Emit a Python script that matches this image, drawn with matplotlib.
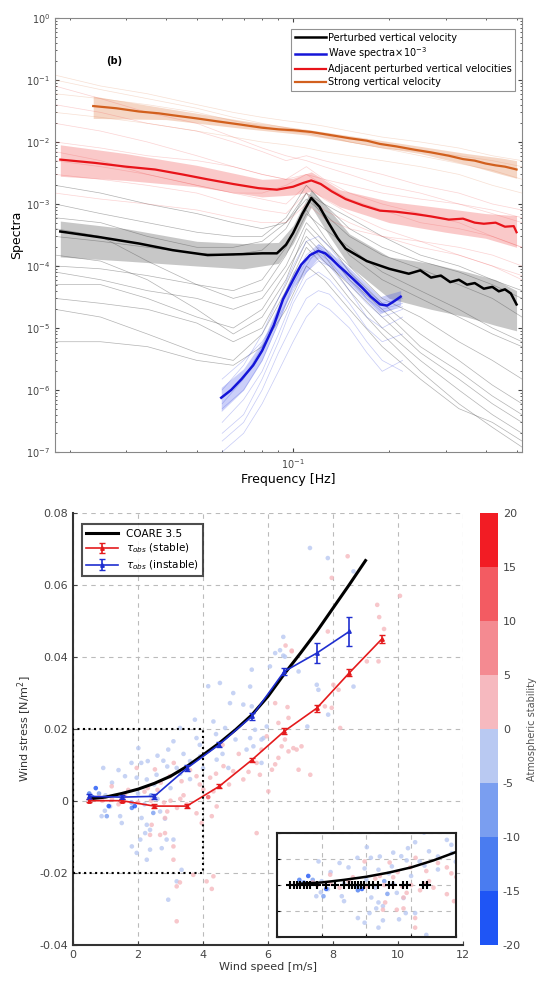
import matplotlib
matplotlib.use("Agg")
import matplotlib.pyplot as plt
import numpy as np
from matplotlib.colors import ListedColormap, BoundaryNorm
from matplotlib.ticker import LogLocator, NullFormatter, MultipleLocator
import matplotlib.cm as cm

plt.rcParams['axes.unicode_minus'] = False

# ---------------- panel (b): spectra ----------------
# mean spectra
f_black = [0.0187, 0.025, 0.033, 0.042, 0.054, 0.069, 0.08, 0.089, 0.095, 0.1, 0.107, 0.114,
           0.121, 0.129, 0.138, 0.146, 0.17, 0.2, 0.23, 0.25, 0.27, 0.29, 0.31, 0.33, 0.35,
           0.37, 0.395, 0.42, 0.44, 0.46, 0.48, 0.5]
s_black = [3.6e-4, 2.9e-4, 2.3e-4, 1.8e-4, 1.5e-4, 1.55e-4, 1.6e-4, 1.6e-4, 2.2e-4, 3.4e-4, 7e-4, 1.25e-3,
           9e-4, 5e-4, 2.8e-4, 1.9e-4, 1.2e-4, 9e-5, 7.5e-5, 8.5e-5, 6.5e-5, 7e-5, 5.5e-5, 6e-5, 5e-5,
           5.3e-5, 4.3e-5, 4.6e-5, 3.9e-5, 4.2e-5, 3.6e-5, 2.4e-5]
f_black_band = [0.0187, 0.03, 0.05, 0.07, 0.09, 0.1, 0.114, 0.13, 0.15, 0.2, 0.27, 0.35, 0.43, 0.5]
lo_black = [1.4e-4, 1.2e-4, 1.0e-4, 9e-5, 1.1e-4, 2.3e-4, 9e-4, 3e-4, 1e-4, 3e-5, 2e-5, 1.5e-5, 1.1e-5, 9e-6]
hi_black = [5.3e-4, 4e-4, 2.5e-4, 2.3e-4, 2.4e-4, 4.5e-4, 1.7e-3, 8e-4, 3.3e-4, 1.4e-4, 1.1e-4, 8e-5, 6e-5, 4e-5]

f_red = [0.0187, 0.024, 0.03, 0.037, 0.045, 0.054, 0.065, 0.078, 0.089, 0.1, 0.108, 0.114, 0.122,
         0.132, 0.146, 0.165, 0.187, 0.21, 0.24, 0.27, 0.307, 0.34, 0.37, 0.395, 0.43, 0.46, 0.49, 0.5]
s_red = [5.2e-3, 4.6e-3, 4.0e-3, 3.6e-3, 3.0e-3, 2.5e-3, 2.1e-3, 1.8e-3, 1.7e-3, 1.9e-3, 2.2e-3, 2.4e-3, 2.1e-3,
         1.6e-3, 1.2e-3, 9.5e-4, 7.8e-4, 7.5e-4, 6.9e-4, 6.3e-4, 5.6e-4, 5.8e-4, 5.0e-4, 4.8e-4, 5.0e-4, 4.3e-4, 4.4e-4, 3.5e-4]
f_red_band = [0.0187, 0.03, 0.05, 0.08, 0.1, 0.114, 0.14, 0.2, 0.3, 0.4, 0.5]
lo_red = [2.8e-3, 2.4e-3, 1.9e-3, 1.3e-3, 1.4e-3, 1.6e-3, 9e-4, 5e-4, 3.5e-4, 2.8e-4, 2e-4]
hi_red = [9e-3, 6.5e-3, 4.2e-3, 2.5e-3, 2.6e-3, 3.3e-3, 1.7e-3, 1.1e-3, 8.5e-4, 7e-4, 6.5e-4]

f_orange = [0.0237, 0.028, 0.033, 0.038, 0.042, 0.05, 0.058, 0.069, 0.08, 0.09, 0.1, 0.114, 0.13,
            0.15, 0.17, 0.187, 0.21, 0.24, 0.27, 0.307, 0.34, 0.37, 0.4, 0.43, 0.46, 0.49, 0.5]
s_orange = [3.8e-2, 3.5e-2, 3.1e-2, 2.9e-2, 2.7e-2, 2.4e-2, 2.15e-2, 1.9e-2, 1.7e-2, 1.6e-2, 1.55e-2, 1.45e-2, 1.3e-2,
            1.15e-2, 1.05e-2, 9.3e-3, 8.5e-3, 7.5e-3, 6.8e-3, 6.0e-3, 5.3e-3, 5.0e-3, 4.5e-3, 4.2e-3, 4.0e-3, 3.7e-3, 3.6e-3]
f_orange_band = [0.0237, 0.04, 0.07, 0.11, 0.17, 0.25, 0.35, 0.45, 0.5]
lo_orange = [2.4e-2, 2.3e-2, 1.65e-2, 1.3e-2, 9e-3, 6.5e-3, 4.3e-3, 3.0e-3, 2.6e-3]
hi_orange = [5.5e-2, 3.5e-2, 2.2e-2, 1.6e-2, 1.15e-2, 8.5e-3, 6.5e-3, 5.5e-3, 5e-3]

f_wave = [0.0596, 0.064, 0.069, 0.075, 0.08, 0.087, 0.093, 0.1, 0.106, 0.113, 0.12, 0.126, 0.132,
          0.139, 0.146, 0.155, 0.165, 0.175, 0.187, 0.197, 0.207, 0.217]
s_wave = [7.5e-7, 1.0e-6, 1.5e-6, 2.5e-6, 4.3e-6, 1.1e-5, 2.9e-5, 6e-5, 1.05e-4, 1.5e-4, 1.75e-4, 1.6e-4, 1.3e-4,
          1.0e-4, 8e-5, 6e-5, 4.4e-5, 3.2e-5, 2.4e-5, 2.3e-5, 2.7e-5, 3.2e-5]
f_wave_band = [0.0596, 0.07, 0.08, 0.1, 0.12, 0.146, 0.187, 0.217]
lo_wave = [4.5e-7, 1e-6, 3e-6, 4.5e-5, 1.35e-4, 6e-5, 1.7e-5, 2.3e-5]
hi_wave = [1.1e-6, 2.2e-6, 6e-6, 8e-5, 2.3e-4, 1.05e-4, 3.2e-5, 4e-5]

# individual spectra (thin lines)
f_thin = [0.018, 0.025, 0.035, 0.05, 0.065, 0.08, 0.095, 0.11, 0.125, 0.15, 0.19, 0.25, 0.33, 0.42, 0.52]
thin_black = [
    [3e-4, 2.5e-4, 2e-4, 1.6e-4, 1.5e-4, 1.8e-4, 4e-4, 1.5e-3, 6e-4, 1.5e-4, 6e-5, 3e-5, 1.5e-5, 8e-6, 5e-6],
    [1e-4, 9e-5, 7e-5, 5e-5, 4e-5, 6e-5, 2e-4, 8e-4, 3e-4, 8e-5, 2.5e-5, 8e-6, 3e-6, 1.2e-6, 6e-7],
    [5e-5, 5e-5, 3e-5, 1.5e-5, 1e-5, 2e-5, 8e-5, 3e-4, 1.5e-4, 4e-5, 1e-5, 3e-6, 1e-6, 4e-7, 2e-7],
    [2e-5, 1.5e-5, 8e-6, 4e-6, 3e-6, 8e-6, 4e-5, 2e-4, 1e-4, 3e-5, 8e-6, 2e-6, 6e-7, 2.5e-7, 1.2e-7],
    [6e-6, 6e-6, 5e-6, 3e-6, 2.5e-6, 5e-6, 2e-5, 1e-4, 6e-5, 2e-5, 5e-6, 1.5e-6, 5e-7, 3e-7, 1.5e-7],
    [1e-3, 7e-4, 5e-4, 3.5e-4, 3e-4, 3e-4, 6e-4, 2e-3, 1e-3, 4e-4, 2e-4, 1.2e-4, 8e-5, 5e-5, 3e-5],
    [6e-4, 5e-4, 3e-4, 2e-4, 2e-4, 2.5e-4, 5e-4, 1.2e-3, 7e-4, 3e-4, 1.5e-4, 9e-5, 5e-5, 3e-5, 1.5e-5],
    [1.5e-4, 1.2e-4, 6e-5, 2e-5, 8e-6, 1.5e-5, 6e-5, 4e-4, 2e-4, 6e-5, 2e-5, 5e-6, 2e-6, 8e-7, 4e-7],
    [3e-5, 2.5e-5, 2e-5, 1.2e-5, 6e-6, 1e-5, 5e-5, 2.5e-4, 1.2e-4, 5e-5, 1.5e-5, 4e-6, 1.5e-6, 6e-7, 3e-7],
    [2e-3, 1.5e-3, 1e-3, 7e-4, 5e-4, 4e-4, 5e-4, 1.5e-3, 1e-3, 6e-4, 3e-4, 1.5e-4, 1e-4, 6e-5, 4e-5],
    [8e-5, 6e-5, 4e-5, 3e-5, 2e-5, 3e-5, 1e-4, 5e-4, 2.5e-4, 1e-4, 3e-5, 1.5e-5, 6e-6, 3e-6, 1.5e-6],
    [4e-4, 3e-4, 1.2e-4, 5e-5, 3e-5, 4e-5, 1.5e-4, 7e-4, 4e-4, 2e-4, 8e-5, 4e-5, 2e-5, 1e-5, 6e-6],
]
thin_red = [
    [8e-2, 5e-2, 3e-2, 2e-2, 1.2e-2, 8e-3, 6e-3, 5e-3, 4e-3, 3e-3, 2e-3, 1.5e-3, 1e-3, 7e-4, 5e-4],
    [2e-2, 1.5e-2, 1e-2, 6e-3, 4e-3, 3e-3, 2.5e-3, 4e-3, 2.5e-3, 1.5e-3, 1e-3, 7e-4, 5e-4, 3e-4, 2e-4],
    [5e-3, 4e-3, 3e-3, 2e-3, 1.5e-3, 1.2e-3, 1e-3, 2e-3, 1.2e-3, 7e-4, 4e-4, 2.5e-4, 1.5e-4, 1e-4, 7e-5],
    [1e-2, 8e-3, 6e-3, 5e-3, 4e-3, 3e-3, 2.5e-3, 3e-3, 2.5e-3, 2e-3, 1.5e-3, 1.2e-3, 1e-3, 8e-4, 6e-4],
    [3e-3, 2.5e-3, 2e-3, 1.5e-3, 1e-3, 8e-4, 7e-4, 1.5e-3, 8e-4, 5e-4, 3e-4, 2e-4, 1.5e-4, 1e-4, 6e-5],
    [4e-2, 3e-2, 2e-2, 1.5e-2, 1e-2, 7e-3, 5e-3, 6e-3, 5e-3, 4e-3, 3e-3, 2e-3, 1.5e-3, 1e-3, 8e-4],
    [1.5e-3, 1.2e-3, 1e-3, 8e-4, 6e-4, 5e-4, 5e-4, 1e-3, 6e-4, 4e-4, 3e-4, 2.5e-4, 2e-4, 1.5e-4, 1e-4],
    [7e-3, 5e-3, 3e-3, 2e-3, 1.5e-3, 1.5e-3, 2e-3, 3e-3, 2e-3, 1.2e-3, 8e-4, 5e-4, 4e-4, 3e-4, 2e-4],
]
thin_orange = [
    [1e-1, 7e-2, 5e-2, 3.5e-2, 2.5e-2, 2e-2, 1.7e-2, 1.5e-2, 1.3e-2, 1e-2, 8e-3, 6e-3, 4.5e-3, 3.5e-3, 2.5e-3],
    [6e-2, 5e-2, 4e-2, 3e-2, 2.2e-2, 1.8e-2, 1.5e-2, 1.4e-2, 1.2e-2, 1e-2, 8e-3, 7e-3, 6e-3, 5e-3, 4e-3],
    [3e-2, 2.5e-2, 2e-2, 1.5e-2, 1.2e-2, 1e-2, 9e-3, 8e-3, 7e-3, 6e-3, 5e-3, 4e-3, 3e-3, 2e-3, 1.5e-3],
    [1.2e-1, 8e-2, 6e-2, 4e-2, 3e-2, 2.5e-2, 2.2e-2, 2e-2, 1.8e-2, 1.5e-2, 1.2e-2, 1e-2, 8e-3, 6e-3, 5e-3],
]
f_thin_wave = [0.06, 0.07, 0.08, 0.09, 0.1, 0.11, 0.12, 0.13, 0.15, 0.17, 0.19, 0.22]
thin_wave = [
    [5e-7, 1e-6, 3e-6, 1.2e-5, 5e-5, 1.2e-4, 1.6e-4, 1.2e-4, 5e-5, 2.5e-5, 1.5e-5, 2e-5],
    [2e-7, 4e-7, 1.5e-6, 6e-6, 2.5e-5, 6e-5, 8e-5, 6e-5, 2.5e-5, 1e-5, 6e-6, 8e-6],
    [1e-6, 2.5e-6, 8e-6, 3e-5, 1e-4, 2.5e-4, 3e-4, 2e-4, 8e-5, 4e-5, 2.5e-5, 3e-5],
    [1e-7, 2e-7, 6e-7, 2e-6, 6e-6, 1.5e-5, 2.5e-5, 2e-5, 1e-5, 4e-6, 2e-6, 3e-6],
    [3e-7, 7e-7, 2e-6, 8e-6, 3e-5, 8e-5, 1.2e-4, 1e-4, 4e-5, 1.5e-5, 1e-5, 1.5e-5],
    [1.5e-6, 3e-6, 6e-6, 1.5e-5, 4e-5, 1e-4, 2e-4, 1.5e-4, 6e-5, 3e-5, 2e-5, 2.5e-5],
    [1.5e-7, 3e-7, 1e-6, 4e-6, 1.2e-5, 3e-5, 4e-5, 3.5e-5, 1.5e-5, 6e-6, 3e-6, 2e-6],
    [6e-7, 1.5e-6, 5e-6, 2e-5, 6e-5, 1.5e-4, 2.2e-4, 1.7e-4, 7e-5, 3e-5, 1.8e-5, 2.2e-5],
]

# ---------------- wind stress panel ----------------
coare_u = [0.5, 1, 1.5, 2, 2.5, 3, 3.5, 4, 4.5, 5, 5.5, 6, 6.5, 7, 7.5, 8, 8.5, 9]
coare_tau = [0.0005, 0.001, 0.002, 0.0032, 0.0048, 0.0068, 0.0095, 0.0127, 0.016, 0.0197, 0.0238,
             0.029, 0.0352, 0.041, 0.047, 0.0535, 0.060, 0.0667]

stable_u = [0.5, 1.5, 2.5, 3.5, 4.5, 5.5, 6.5, 7.5, 8.5, 9.5]
stable_tau = [0.0, 0.0, -0.0015, -0.0015, 0.004, 0.0113, 0.0193, 0.0257, 0.0355, 0.0449]
stable_err = [0.0005, 0.0005, 0.0006, 0.0006, 0.0006, 0.0006, 0.0008, 0.001, 0.001, 0.0012]

instable_u = [0.5, 1.5, 2.5, 3.5, 4.5, 5.5, 6.5, 7.5, 8.5]
instable_tau = [0.0012, 0.001, 0.0012, 0.009, 0.0156, 0.0234, 0.0359, 0.041, 0.047]
instable_err = [0.0006, 0.0005, 0.0006, 0.0008, 0.0008, 0.001, 0.001, 0.0028, 0.004]

wind_u = [5.50, 4.52, 4.93, 4.16, 4.83, 5.24, 5.50, 3.75, 4.32, 4.68, 5.45, 3.29, 3.09, 2.93, 3.80, 2.01,
          0.93, 1.60, 1.96, 2.27, 2.57, 2.78, 3.19, 3.91, 4.42, 4.78, 5.34, 5.86,
          6.22, 6.47, 6.94, 6.06, 5.45, 7.50, 7.55, 8.63, 7.85, 7.21, 5.80, 5.55, 5.60, 5.96, 5.80,
          7.29, 7.84, 8.63, 6.47, 6.37, 6.52,
          1.14, 0.98, 0.88, 1.04, 1.81, 1.45, 1.50, 2.11, 2.27, 2.37, 2.47, 2.68, 2.83, 2.22, 2.88,
          2.07, 1.81, 2.37, 2.73, 3.09, 1.96, 2.27, 3.34, 3.19, 2.93,
          0.7, 1.0, 1.1, 1.9, 0.6, 1.5, 1.8, 2.2, 2.6, 0.5, 2.4,
          2.3, 2.6, 2.9, 3.4, 3.6, 2.1, 1.4, 1.8, 2.5, 3.0, 3.3, 3.6, 4.0, 4.6, 5.0, 1.2, 0.8, 2.0,
          4.4, 3.9,
          1.96, 2.52, 2.98, 3.34, 3.80, 4.22, 4.63, 4.93, 5.24, 5.65, 5.80, 5.96, 1.19, 4.01, 4.32,
          6.73, 6.22, 8.01, 8.17, 9.04, 9.40, 7.75, 7.96, 8.22, 6.32, 6.63, 6.52, 6.78, 7.03, 6.42,
          6.63, 6.88, 6.32, 6.22, 6.12, 5.75, 6.94, 7.30, 6.01,
          8.45, 7.96, 10.06, 9.36, 9.42, 9.57, 7.84, 6.54, 6.73,
          2.42, 2.83, 2.37, 2.68, 2.83, 3.09, 3.09, 3.70, 3.29, 3.19, 3.19, 4.11, 4.32, 4.27, 3.96,
          4.27, 4.42, 5.65, 4.16,
          0.8, 1.2, 1.6, 2.0, 2.4, 2.8, 3.0, 3.3, 3.5, 0.9, 2.2, 2.6, 1.4, 3.2,
          3.1, 3.6, 3.9, 4.4, 5.1, 2.7, 2.3, 1.7, 4.8, 5.4, 3.4, 2.9, 3.8, 4.6, 6.6]
wind_tau = [0.0364, 0.0327, 0.0299, 0.0318, 0.0271, 0.0267, 0.0262, 0.0225, 0.0220, 0.0202, 0.0174, 0.0202,
            0.0165, 0.0142, 0.0174, 0.0146,
            0.0091, 0.0068, 0.0064, 0.0059, 0.0072, 0.0111, 0.0091, 0.0123, 0.0114, 0.0091, 0.0142, 0.0174,
            0.0410, 0.0403, 0.0359, 0.0373, 0.0317, 0.0322, 0.0308, 0.0317, 0.0239, 0.0206, 0.0170, 0.0151,
            0.0197, 0.0206, 0.0105,
            0.0702, 0.0674, 0.0637, 0.0455, 0.0418, 0.0400,
            -0.0016, -0.0028, -0.0043, -0.0043, -0.0020, -0.0043, -0.0062, -0.0048, -0.0067, -0.0081,
            -0.0034, -0.0030, -0.0050, -0.0090, -0.0108,
            -0.0108, -0.0127, -0.0136, -0.0132, -0.0108, -0.0145, -0.0164, -0.0192, -0.0224, -0.0275,
            0.0035, 0.0015, -0.0015, -0.0015, 0.001, 0.0005, -0.0005, -0.001, 0.0005, 0.002, 0.0015,
            0.011, 0.0125, 0.0095, 0.013, 0.011, 0.0105, 0.0085, 0.0105, 0.0045, 0.0035, 0.0075, 0.006,
            0.009, 0.013, 0.017, 0.005, 0.002, 0.002, 0.0185, 0.0155,
            0.0091, 0.0087, 0.0068, 0.0054, 0.0068, 0.0064, 0.0096, 0.0082, 0.0059, 0.0105, 0.0142, 0.0179,
            0.0040, 0.0031, 0.0026,
            0.0415, 0.0271, 0.0322, 0.0308, 0.0387, 0.0387, 0.0262, 0.0258, 0.0202, 0.0216, 0.0230,
            0.0170, 0.0146, 0.0151, 0.0151,
            0.0137, 0.0142, 0.0119, 0.0101, 0.0086, 0.0072, 0.0086, 0.0072, 0.0026,
            0.0679, 0.0619, 0.0569, 0.0544, 0.0510, 0.0477, 0.0470, 0.0431, 0.0417,
            -0.0067, -0.0048, -0.0095, -0.0095, -0.0090, -0.0127, -0.0164, -0.0206, -0.0227, -0.0238,
            -0.0335, -0.0224, -0.0210, -0.0245, -0.0062,
            -0.0043, -0.0016, -0.0090, 0.0010,
            0.001, 0.0005, 0.0015, -0.0005, 0.0, -0.0005, 0.0, 0.0005, -0.001, 0.0, 0.0025, 0.003, -0.001, -0.002,
            0.0105, 0.0085, 0.0045, 0.0075, 0.013, 0.005, 0.0035, 0.003, 0.0045, 0.008, 0.0015, -0.003,
            -0.0035, 0.0155, 0.026]
stability = [-3, -4, -3, -2, -4, -3, -2, -3, -4, -2, -3, -4, -2, -3, -2, -4,
             -3, -2, -3, -2, -3, -4, -2, -3, -2, -3, -2, -3,
             -3, -2, -4, -3, -2, -3, -2, -3, -4, -2, -3, -2, -4, -3, -2,
             -4, -3, -2, -3, -2, -4,
             -3, -2, -3, -8, -12, -3, -2, -3, -4, -3, -8, -2, -3, -3, -2,
             -3, -4, -3, -3, -2, -3, -3, -4, -3, -3,
             -17, -4, -17, -17, -12, -3, -8, -3, -3, -12, -8,
             -3, -2, -4, -3, -2, -3, -4, -2, -3, -3, -2, -4, -3, -2, -3, -4, -8, -3,
             -2, -3,
             3, 2, 3, 2, 3, 4, 3, 2, 3, 2, 3, 4, 3, 2, 3,
             3, 4, 3, 2, 3, 2, 3, 4, 3, 2, 3, 3, 2, 3, 4,
             3, 2, 3, 2, 3, 3, 2, 3, 3,
             4, 3, 3, 4, 3, 2, 3, 3, 2,
             3, 2, 3, 4, 3, 3, 2, 3, 3, 2, 3, 3, 2, 3, 3,
             2, 3, 3, 12,
             3, 2, 3, 3, 2, 3, 3, 2, 3, 2, 3, 2, 3, 4,
             3, 2, 3, 2, 3, 3, 2, 3, 2, 3, 2, 3, 2, 3, 3]

cross_u = [0.3, 0.37, 0.45, 0.52, 0.6, 0.67, 0.75, 0.9, 1.1, 1.3, 1.5, 1.6, 1.67, 1.75, 1.82, 1.87,
           1.95, 2.05, 2.15, 2.27, 2.5, 2.6, 2.82, 2.9, 3.27, 3.35]
cross_tau = [0.0] * len(cross_u)

stab_levels = [-20, -15, -10, -5, 0, 5, 10, 15, 20]
stab_colors = ['#1f55f5', '#4a7cf0', '#7a9ef0', '#b9c9f2', '#f6b9bf', '#f48a91', '#f35b62', '#f21c24']

# ------------------------------------------------------------------
fig = plt.figure(figsize=(5.42, 9.89), dpi=100)
tick_col = '#444444'

ax = fig.add_axes([0.1015, 0.543, 0.8616, 0.4388])
for vals in thin_black:
    ax.plot(f_thin, vals, color='#555555', lw=0.5, alpha=0.45)
for vals in thin_red:
    ax.plot(f_thin, vals, color='#f05050', lw=0.5, alpha=0.25)
for vals in thin_orange:
    ax.plot(f_thin, vals, color='#e08050', lw=0.5, alpha=0.25)
for vals in thin_wave:
    ax.plot(f_thin_wave, vals, color='#4050e0', lw=0.5, alpha=0.3)

ax.fill_between(f_black_band, lo_black, hi_black, color='#606060', alpha=0.35, lw=0)
ax.fill_between(f_red_band, lo_red, hi_red, color='#f04040', alpha=0.28, lw=0)
ax.fill_between(f_orange_band, lo_orange, hi_orange, color='#e07a40', alpha=0.3, lw=0)
ax.fill_between(f_wave_band, lo_wave, hi_wave, color='#3040e8', alpha=0.25, lw=0)

ax.plot(f_black, s_black, color='black', lw=1.8, label='Perturbed vertical velocity')
ax.plot(f_wave, s_wave, color='#1515d8', lw=1.8, label=r'Wave spectra$\times10^{-3}$')
ax.plot(f_red, s_red, color='#e8141a', lw=1.6, label='Adjacent perturbed vertical velocities')
ax.plot(f_orange, s_orange, color='#d2601e', lw=1.6, label='Strong vertical velocity')

ax.set_xscale('log')
ax.set_yscale('log')
ax.set_xlim(0.018, 0.52)
ax.set_ylim(1e-7, 1)
ax.yaxis.set_major_locator(LogLocator(base=10, numticks=10))
ax.yaxis.set_minor_formatter(NullFormatter())
ax.xaxis.set_minor_formatter(NullFormatter())
ax.tick_params(which='both', direction='in', top=True, right=True, labelsize=7,
               colors=tick_col, length=3)
ax.tick_params(which='minor', length=1.5)
for sp in ax.spines.values():
    sp.set_color('#888888')
ax.set_xlabel('Frequency [Hz]', fontsize=9, labelpad=2)
ax.set_ylabel('Spectra', fontsize=9, labelpad=2)
ax.text(0.026, 0.18, '(b)', fontsize=7, fontweight='bold')
leg = ax.legend(loc='upper right', fontsize=7, handlelength=3.2, frameon=True, fancybox=False,
                borderpad=0.35, labelspacing=0.3, handletextpad=0.2, bbox_to_anchor=(0.995, 0.985))
leg.get_frame().set_edgecolor('#777777')
leg.get_frame().set_linewidth(0.8)

# ---------------- bottom ----------------
cmap = ListedColormap(stab_colors)
norm = BoundaryNorm(stab_levels, cmap.N)

ax2 = fig.add_axes([0.1347, 0.0448, 0.7196, 0.4368])
ax2.grid(True, ls=(0, (4, 4)), color='#bbbbbb', lw=0.8)
ax2.set_axisbelow(True)
ax2.scatter(wind_u, wind_tau, c=stability, cmap=cmap, norm=norm, s=11, alpha=0.8, lw=0, zorder=2)
ax2.plot(coare_u, coare_tau, color='black', lw=2.2, label='COARE 3.5', zorder=4)
ax2.errorbar(stable_u, stable_tau, yerr=stable_err, color='#e41a1c', lw=1.2, capsize=2,
             marker='^', ms=2.5, label=r'$\tau_{obs}$ (stable)', zorder=5)
ax2.errorbar(instable_u, instable_tau, yerr=instable_err, color='#1f2fd0', lw=1.2, capsize=2,
             marker='^', ms=2.5, label=r'$\tau_{obs}$ (instable)', zorder=5)
ax2.plot([0, 4, 4, 0, 0], [-0.02, -0.02, 0.02, 0.02, -0.02], color='black', lw=1.5, ls=':', zorder=6)
ax2.set_xlim(0, 12)
ax2.set_ylim(-0.04, 0.08)
ax2.xaxis.set_major_locator(MultipleLocator(2))
ax2.yaxis.set_major_locator(MultipleLocator(0.02))
ax2.yaxis.set_major_formatter(plt.FuncFormatter(lambda v, p: '0' if abs(v) < 1e-9 else f'{v:.2f}'))
for s in ['top', 'right']:
    ax2.spines[s].set_visible(False)
for s in ['left', 'bottom']:
    ax2.spines[s].set_linewidth(1.5)
    ax2.spines[s].set_color('#333333')
ax2.tick_params(direction='in', labelsize=8, colors=tick_col, length=3)
ax2.set_xlabel('Wind speed [m/s]', fontsize=8, labelpad=2, color='#333333')
ax2.set_ylabel(r'Wind stress [N/m$^2$]', fontsize=8, labelpad=4, color='#333333')
leg2 = ax2.legend(loc='upper left', fontsize=7.5, frameon=True, fancybox=False, handlelength=3,
                  borderpad=0.4, labelspacing=0.3, bbox_to_anchor=(0.01, 0.985))
leg2.get_frame().set_edgecolor('#222222')
leg2.get_frame().set_linewidth(1.5)

cax = fig.add_axes([0.8856, 0.0448, 0.0332, 0.4368])
sm = cm.ScalarMappable(norm=norm, cmap=cmap)
cb = fig.colorbar(sm, cax=cax, ticks=stab_levels)
cb.outline.set_visible(False)
cax.tick_params(length=0, labelsize=8, colors=tick_col)
cb.set_label('Atmospheric stability', fontsize=7, color='#555555', labelpad=4)

# inset
axi = fig.add_axes([0.511, 0.0526, 0.330, 0.105])
axi.grid(True, ls=(0, (4, 4)), color='#bbbbbb', lw=0.8)
axi.set_axisbelow(True)
axi.scatter(wind_u, wind_tau, c=stability, cmap=cmap, norm=norm, s=11, alpha=0.8, lw=0, zorder=2)
axi.plot(coare_u, coare_tau, color='black', lw=1.8, zorder=4)
axi.plot(cross_u, cross_tau, ls='none', marker='+', color='black', ms=6, mew=1.5, zorder=5)
axi.set_xlim(0, 4)
axi.set_ylim(-0.02, 0.02)
axi.xaxis.set_major_locator(MultipleLocator(1))
axi.yaxis.set_major_locator(MultipleLocator(0.01))
axi.tick_params(direction='in', labelleft=False, labelbottom=False, length=2)
for sp in axi.spines.values():
    sp.set_linewidth(1.5)
    sp.set_color('#222222')

fig.savefig('out.png', dpi=100)
